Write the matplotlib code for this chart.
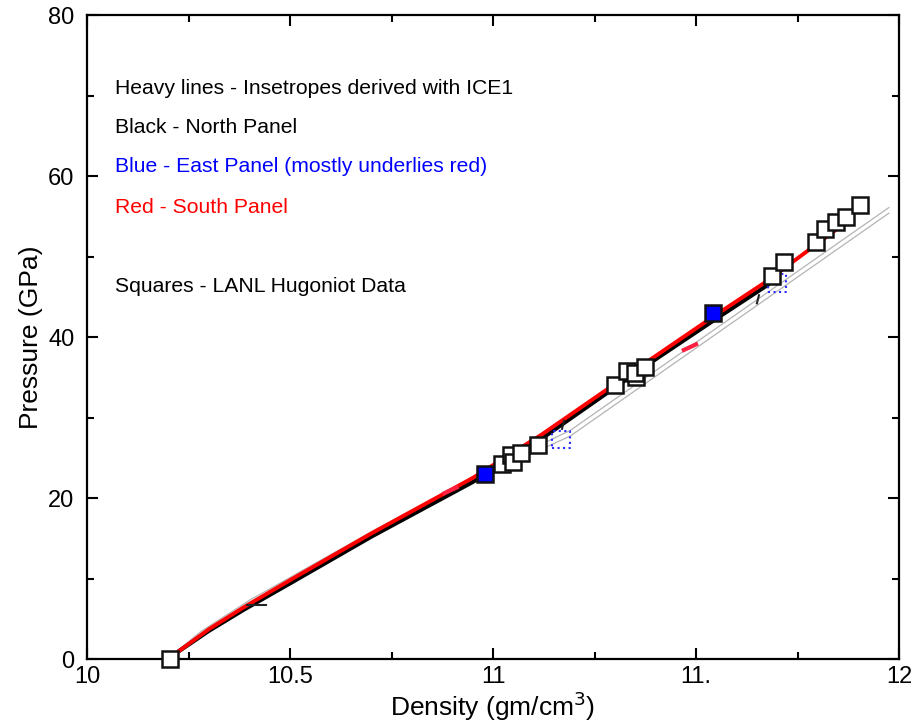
import matplotlib
matplotlib.use("Agg")
import matplotlib.pyplot as plt

plt.rcParams['font.family'] = ['Liberation Sans', 'DejaVu Sans']

# Heavy isentrope lines
north_x = [10.224, 10.30, 10.385, 10.50, 10.70, 10.95, 11.12, 11.39, 11.55, 11.68]
north_y = [0.9, 3.5, 6.1, 9.4, 15.2, 22.0, 27.4, 36.9, 42.3, 46.6]
south_x = [10.224, 10.30, 10.385, 10.50, 10.70, 10.95, 11.12, 11.39, 11.55, 11.67, 11.86]
south_y = [0.9, 3.7, 6.4, 9.8, 15.6, 22.5, 27.9, 37.3, 42.8, 46.8, 53.9]

# Thin grey lines
grey1_x = [10.22, 10.28, 10.40, 10.70, 10.95, 11.19, 11.975]
grey1_y = [0.9, 3.4, 7.3, 15.8, 22.6, 28.4, 56.1]
grey2_x = [10.22, 10.28, 10.40, 10.70, 10.95, 11.19, 11.975]
grey2_y = [0.9, 3.1, 7.0, 15.5, 22.2, 27.7, 55.4]

# Small fragments
frag_black_x = [[10.395, 10.44], [11.65, 11.655], [11.17, 11.175]]
frag_black_y = [[6.7, 6.7], [44.2, 45.2], [28.6, 29.6]]
frag_red_x = [10.88, 10.91]
frag_red_y = [20.6, 21.3]
frag_red2_x = [11.47, 11.50]
frag_red2_y = [38.4, 39.1]

# LANL Hugoniot data (hollow squares)
lanl_x = [10.204, 11.022, 11.044, 11.049, 11.069, 11.111, 11.300, 11.330,
          11.352, 11.350, 11.374, 11.687, 11.717, 11.796, 11.818, 11.845,
          11.869, 11.904]
lanl_y = [0.0, 24.2, 25.3, 24.5, 25.6, 26.6, 34.1, 35.8, 35.0, 35.6, 36.3,
          47.6, 49.3, 51.8, 53.4, 54.3, 54.9, 56.4]

# Blue filled squares
blue_x = [10.980, 11.542]
blue_y = [23.0, 43.0]

# Blue dotted squares
dotted_x = [11.167, 11.700]
dotted_y = [27.3, 46.7]

xticks = [10, 10.5, 11, 11.5, 12]
xticklabels = ['10', '10.5', '11', '11.', '12']
yticks = [0, 20, 40, 60, 80]

notes = ["Heavy lines - Insetropes derived with ICE1",
         "Black - North Panel",
         "Blue - East Panel (mostly underlies red)",
         "Red - South Panel",
         "Squares - LANL Hugoniot Data"]
note_colors = ['black', 'black', '#0000ff', '#ff0000', 'black']
note_y = [70.9, 66.1, 61.2, 56.1, 46.3]

fig = plt.figure(figsize=(9.14, 7.25), dpi=100)
ax = fig.add_axes([0.0952, 0.091, 0.8884, 0.888])

ax.plot(grey1_x, grey1_y, color='#b4b4b4', lw=0.9, zorder=2)
ax.plot(grey2_x, grey2_y, color='#b4b4b4', lw=0.9, zorder=2)
ax.plot(north_x, north_y, color='black', lw=3.0, zorder=3, solid_capstyle='butt')
ax.plot(south_x, south_y, color='#ff0000', lw=2.8, zorder=4, solid_capstyle='butt')
for fx, fy in zip(frag_black_x, frag_black_y):
    ax.plot(fx, fy, color='#222222', lw=1.5, zorder=4)
ax.plot(frag_red_x, frag_red_y, color='#ff2040', lw=3, zorder=4)
ax.plot(frag_red2_x, frag_red2_y, color='#ff2040', lw=3, zorder=4)

ax.scatter(dotted_x, dotted_y, marker='s', s=160, facecolors='none',
           edgecolors='#2a2aff', linestyle=':', linewidths=1.5, zorder=5)
ax.plot(lanl_x, lanl_y, ls='none', marker='s', markersize=11.5,
        markerfacecolor='white', markeredgecolor='#111111', markeredgewidth=1.8,
        zorder=6, clip_on=False)
ax.plot(blue_x, blue_y, ls='none', marker='s', markersize=11.5,
        markerfacecolor='#0000ff', markeredgecolor='#111111', markeredgewidth=1.8,
        zorder=7)

for t, c, y in zip(notes, note_colors, note_y):
    ax.text(10.069, y, t, color=c, fontsize=15.2, va='center', ha='left')

ax.set_xlim(10, 12)
ax.set_ylim(0, 80)
ax.set_xticks(xticks)
ax.set_xticklabels(xticklabels)
ax.set_yticks(yticks)
ax.set_xticks([10.25, 10.75, 11.25, 11.75], minor=True)
ax.set_yticks([10, 30, 50, 70], minor=True)
ax.tick_params(which='both', direction='in', top=True, right=True,
               labelsize=17, width=1.5)
ax.tick_params(which='major', length=8)
ax.tick_params(which='minor', length=5)
ax.tick_params(axis='x', which='major', pad=5)
ax.tick_params(axis='y', which='major', pad=9)
for s in ax.spines.values():
    s.set_linewidth(1.6)

ax.set_xlabel('Density (gm/cm$^3$)', fontsize=19, labelpad=1)
ax.set_ylabel('Pressure (GPa)', fontsize=19, labelpad=4)

fig.savefig('out.png', dpi=100)
